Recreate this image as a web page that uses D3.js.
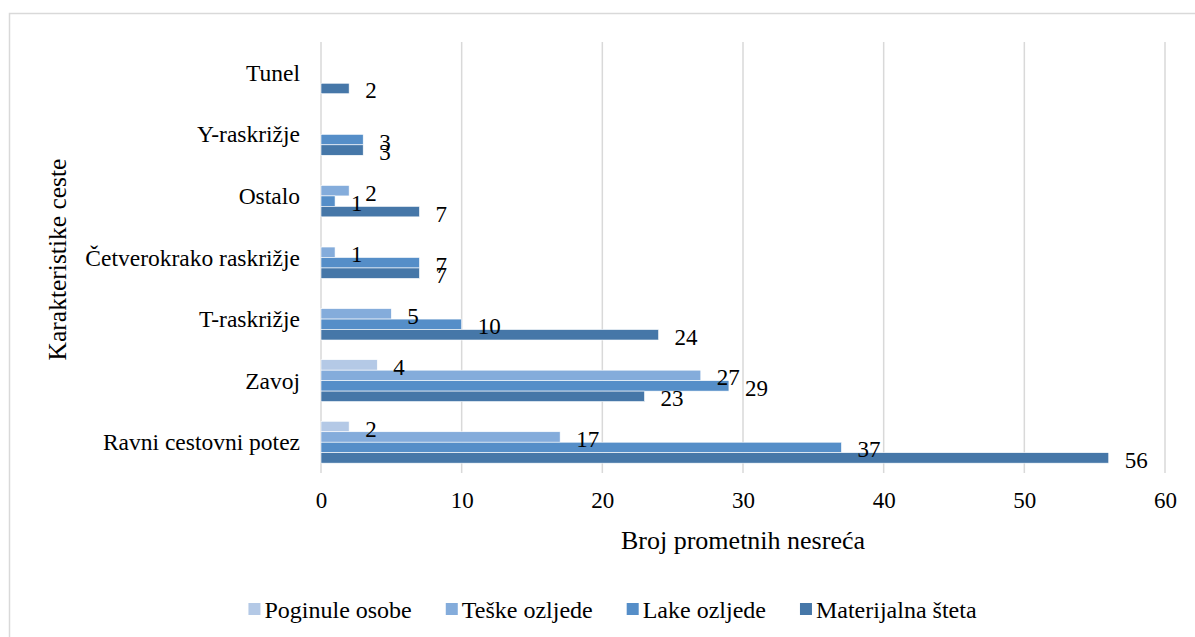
<!DOCTYPE html>
<html>
<head>
<meta charset="utf-8">
<script src="https://cdn.jsdelivr.net/npm/d3@7"></script>
<style>
  html, body { margin: 0; padding: 0; background: #fff; }
  svg { display: block; }
  svg text { font-family: 'Liberation Serif', Tinos, 'Times New Roman', 'DejaVu Serif', serif !important; fill: #000; }
</style>
</head>
<body>
<svg id="chart" width="1195" height="637"></svg>
<script>
// Road characteristics (top to bottom as drawn)
const categories = ['Tunel', 'Y-raskrižje', 'Ostalo', 'Četverokrako raskrižje', 'T-raskrižje', 'Zavoj', 'Ravni cestovni potez'];

// Series values per category (null = no bar)
const poginule = [null, null, null, null, null, 4, 2];
const teske = [null, null, 2, 1, 5, 27, 17];
const lake = [null, 3, 1, 7, 10, 29, 37];
const materijalna = [2, 3, 7, 7, 24, 23, 56];

const seriesNames = ['Poginule osobe', 'Teške ozljede', 'Lake ozljede', 'Materijalna šteta'];
const seriesColors = ['#b4c9e6', '#84acdb', '#558ec8', '#4677a8'];
const xTicks = [0, 10, 20, 30, 40, 50, 60];

const series = [poginule, teske, lake, materijalna];
const serif = "'Liberation Serif', Tinos, 'Times New Roman', 'DejaVu Serif', serif";

const svg = d3.select('#chart');
const plot = { left: 321, right: 1165, top: 42, bottom: 473 };

// Chart border (runs off the right and bottom edges)
svg.append('rect')
  .attr('x', 9.5).attr('y', 13.5)
  .attr('width', 1200).attr('height', 640)
  .attr('fill', 'none')
  .attr('stroke', '#d9d9d9')
  .attr('stroke-width', 1.5);

// Scales
const x = d3.scaleLinear().domain([0, 60]).range([plot.left, plot.right]);
const y = d3.scaleBand().domain(categories)
  .range([plot.top, plot.bottom])
  .paddingInner(0.32)
  .paddingOuter(0.16);
const ySub = d3.scaleBand().domain(d3.range(series.length)).range([0, y.bandwidth()]);

// Vertical gridlines
svg.append('g')
  .selectAll('line')
  .data(xTicks)
  .join('line')
    .attr('x1', d => x(d)).attr('x2', d => x(d))
    .attr('y1', plot.top).attr('y2', plot.bottom)
    .attr('stroke', '#d9d9d9')
    .attr('stroke-width', 1.5);

// X axis labels
const xAxis = d3.axisBottom(x).tickValues(xTicks).tickSize(0).tickPadding(0);
svg.append('g')
  .attr('transform', `translate(0, ${plot.bottom})`)
  .call(xAxis)
  .attr('font-family', serif)
  .call(g => g.select('.domain').remove())
  .selectAll('text')
    .attr('y', 35)
    .attr('dy', null)
    .style('font-size', '23px');

// Y axis labels
const yAxis = d3.axisLeft(y).tickSize(0).tickPadding(0);
svg.append('g')
  .attr('transform', `translate(${plot.left - 21}, 0)`)
  .call(yAxis)
  .attr('font-family', serif)
  .call(g => g.select('.domain').remove())
  .selectAll('text')
    .attr('dy', null)
    .attr('y', 8)
    .style('font-size', '23.5px');

// Bars, one group per category
const rows = categories.map((c, i) => ({
  category: c,
  values: series.map((s, k) => ({ key: k, value: s[i] })).filter(d => d.value !== null)
}));

const groups = svg.append('g')
  .selectAll('g')
  .data(rows)
  .join('g')
    .attr('transform', d => `translate(0, ${y(d.category)})`);

groups.selectAll('rect')
  .data(d => d.values)
  .join('rect')
    .attr('x', x(0))
    .attr('y', d => ySub(d.key))
    .attr('width', d => x(d.value) - x(0))
    .attr('height', ySub.bandwidth())
    .attr('fill', d => seriesColors[d.key])
    .attr('stroke', '#ffffff')
    .attr('stroke-width', 0.6);

// Data labels
groups.selectAll('text')
  .data(d => d.values)
  .join('text')
    .attr('x', d => x(d.value) + 16)
    .attr('y', d => ySub(d.key) + ySub.bandwidth() / 2 + 10)
    .style('font-size', '23px')
    .text(d => d.value);

// Axis titles
svg.append('text')
  .attr('x', (plot.left + plot.right) / 2)
  .attr('y', 549)
  .attr('text-anchor', 'middle')
  .style('font-size', '26px')
  .text('Broj prometnih nesreća');

svg.append('text')
  .attr('transform', `translate(66, ${(plot.top + plot.bottom) / 2 + 2}) rotate(-90)`)
  .attr('text-anchor', 'middle')
  .style('font-size', '25.5px')
  .text('Karakteristike ceste');

// Legend, centred under the plot
const legend = svg.append('g');
const items = legend.selectAll('g')
  .data(seriesNames)
  .join('g');

items.append('rect')
  .attr('y', 603)
  .attr('width', 12)
  .attr('height', 12)
  .attr('fill', (d, i) => seriesColors[i]);

items.append('text')
  .attr('x', 16)
  .attr('y', 618)
  .style('font-size', '24px')
  .text(d => d);

let offset = 0;
items.each(function () {
  const w = 16 + d3.select(this).select('text').node().getComputedTextLength();
  d3.select(this).attr('transform', `translate(${offset}, 0)`);
  offset += w + 34;
});
const legendWidth = offset - 34;
legend.attr('transform', `translate(${612.5 - legendWidth / 2}, 0)`);
</script>
</body>
</html>
